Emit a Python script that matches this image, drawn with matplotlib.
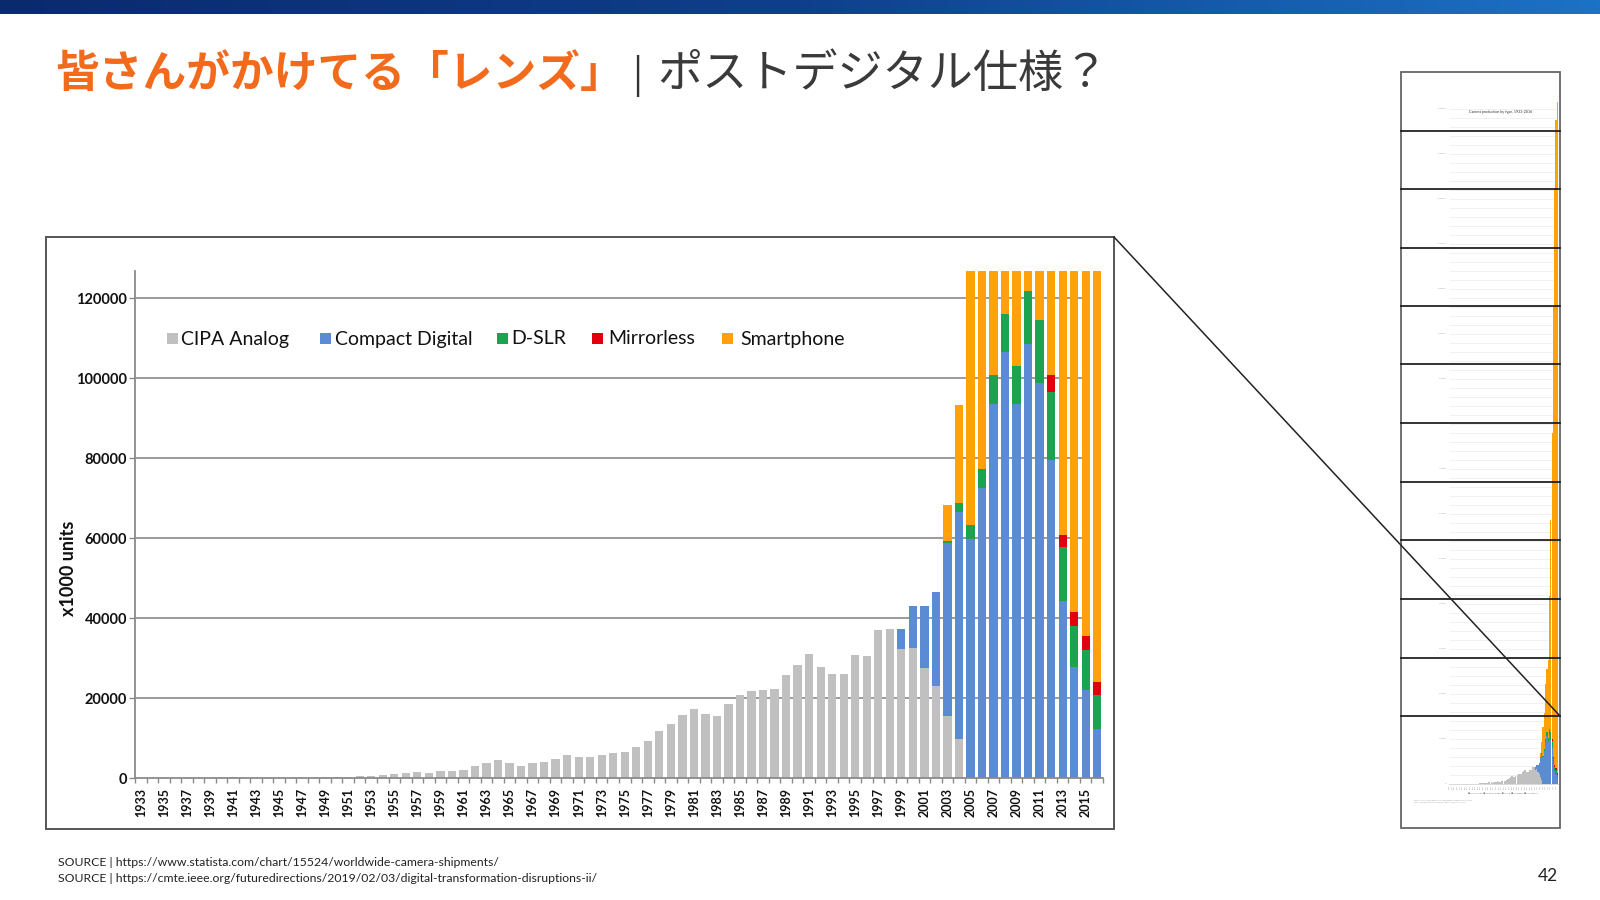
import numpy as np
import matplotlib
matplotlib.use("Agg")
import matplotlib.pyplot as plt
from matplotlib.patches import Rectangle
from matplotlib.lines import Line2D
from matplotlib.colors import LinearSegmentedColormap

# ---------------- data (x1000 units) ----------------
years = list(range(1933, 2017))

cipa_analog = [
    50, 60, 70, 80, 100, 110, 120, 120, 130, 100,        # 1933-1942
    80, 60, 40, 60, 80, 100, 130, 170, 250, 400,         # 1943-1952
    600, 800, 950, 1200, 1450, 1250, 1800, 1650, 2000, 2900,   # 1953-1962
    3750, 4600, 3750, 3100, 3700, 4100, 4850, 5800, 5200, 5200,  # 1963-1972
    5650, 6250, 6500, 7650, 9150, 11800, 13600, 15800, 17350, 15950,  # 1973-1982
    15550, 18450, 20700, 21750, 22000, 22250, 25800, 28300, 30900, 27700,  # 1983-1992
    25900, 26000, 30700, 30400, 37000, 37200, 32200, 32500, 27400, 23000,  # 1993-2002
    15550, 9700, 0, 0, 0, 0, 0, 0, 0, 0,                 # 2003-2012
    0, 0, 0, 0,                                          # 2013-2016
]
compact_digital = [0] * 66 + [
    5100, 10600, 15700, 23400,                           # 1999-2002
    43250, 56800, 59800, 72500, 93400, 106400, 93400, 108560, 98730, 79400,  # 2003-2012
    44150, 27800, 21900, 12200,                          # 2013-2016
]
dslr = [0] * 70 + [
    500, 2250, 3500, 4830, 7400, 9660, 9500, 13090, 15830, 17000,   # 2003-2012
    13600, 10300, 10200, 8550,                           # 2013-2016
]
mirrorless = [0] * 79 + [4330, 3050, 3300, 3500, 3320]   # 2012-2016
smartphone = [0] * 70 + [
    8870, 24550, 64000, 80000, 122000, 139000, 172000, 296000, 472000, 680000,  # 2003-2012
    1000000, 1280000, 1440000, 1490000,                  # 2013-2016
]

series_names = ["CIPA Analog", "Compact Digital", "D-SLR", "Mirrorless", "Smartphone"]
series_values = [cipa_analog, compact_digital, dslr, mirrorless, smartphone]
series_colors = ["#c0c0c0", "#5b8cd3", "#1ca34f", "#e2000f", "#ffa10a"]

y_ticks = [0, 20000, 40000, 60000, 80000, 100000, 120000]
x_label_years = list(range(1933, 2016, 2))

title_main = "皆さんがかけてる「レンズ」"
title_sub = "ポストデジタル仕様？"
sources = [
    "SOURCE | https://www.statista.com/chart/15524/worldwide-camera-shipments/",
    "SOURCE | https://cmte.ieee.org/futuredirections/2019/02/03/digital-transformation-disruptions-ii/",
]
page_number = "42"

# ---------------- helpers ----------------
W, H = 1600, 900
def fx(px):
    return px / W
def fy(py):
    return 1 - py / H

LATIN = ["Lato", "DejaVu Sans"]
CJK = ["Noto Sans CJK JP", "DejaVu Sans"]
plt.rcParams["font.family"] = LATIN

fig = plt.figure(figsize=(16, 9), dpi=100)
fig.patch.set_facecolor("white")

# ---------------- top banner gradient ----------------
ban = fig.add_axes([0, fy(14), 1, 14 / H])
grad = np.linspace(0, 1, 512).reshape(1, -1)
bcmap = LinearSegmentedColormap.from_list("ban", ["#0a2a6e", "#0f3f8c", "#1c72c6"])
ban.imshow(grad, aspect="auto", cmap=bcmap, extent=[0, 1, 0, 1])
ban.set_axis_off()

# ---------------- title ----------------
fig.text(fx(55), fy(74), title_main, family=CJK, fontsize=31.5, fontweight="bold",
         color="#f26a1c", ha="left", va="center")
fig.text(fx(637), fy(76), "|", family=CJK, fontsize=27, color="#333333",
         ha="center", va="center")
fig.text(fx(657), fy(74), title_sub, family=CJK, fontsize=32.5, color="#3a3a3a",
         ha="left", va="center")

# ---------------- chart frame ----------------
fig.add_artist(Rectangle((fx(46), fy(829)), fx(1114) - fx(46), fy(237) - fy(829),
                         transform=fig.transFigure, fill=False, edgecolor="#555555",
                         linewidth=1.4))

# ---------------- main chart ----------------
ax = fig.add_axes([fx(135), fy(778), fx(1103) - fx(135), fy(271) - fy(778)])
x = np.array(years)
bottom = np.zeros(len(years))
for name, vals, col in zip(series_names, series_values, series_colors):
    v = np.array(vals, dtype=float)
    ax.bar(x, v, bottom=bottom, width=0.72, color=col, label=name, zorder=2,
           linewidth=0)
    bottom += v

ax.set_xlim(1932.5, 2016.5)
ax.set_ylim(0, 126750)
ax.hlines(y_ticks[1:], 1932.5, 2014.7, color="#8a8a8a", linewidth=1.2, zorder=1)

for s in ["top", "right"]:
    ax.spines[s].set_visible(False)
for s in ["left", "bottom"]:
    ax.spines[s].set_color("#8a8a8a")
    ax.spines[s].set_linewidth(1.3)

ax.set_yticks(y_ticks)
ax.set_yticklabels([str(v) for v in y_ticks])
ax.tick_params(axis="y", length=4, width=1, color="#8a8a8a", pad=1.5,
               labelsize=10.5, labelcolor="#111111")
ax.set_xticks(x_label_years)
ax.set_xticklabels([str(v) for v in x_label_years], rotation=90)
ax.tick_params(axis="x", which="major", length=0, pad=7, labelsize=9,
               labelcolor="#111111")
ax.set_xticks(np.arange(1932.5, 2017, 1.0), minor=True)
ax.tick_params(axis="x", which="minor", length=3.5, width=1, color="#8a8a8a")
for lab in ax.get_xticklabels() + ax.get_yticklabels():
    lab.set_fontweight("bold")
ax.set_facecolor("none")

fig.text(fx(68), fy(568), "x1000 units", rotation=90, fontsize=13, fontweight="bold",
         ha="center", va="center", color="#111111")

# ---------------- legend (manual) ----------------
leg_sq = [167, 320, 497, 592, 722]
leg_tx = [181, 335, 511, 608, 740]
for name, col, sx, tx in zip(series_names, series_colors, leg_sq, leg_tx):
    fig.add_artist(Rectangle((fx(sx), fy(344)), 11 / W, 11 / H,
                             transform=fig.transFigure, facecolor=col, edgecolor="none"))
    fig.text(fx(tx), fy(339), name, fontsize=14, ha="left", va="center",
             color="#111111")

# ---------------- thumbnail on the right ----------------
fig.add_artist(Rectangle((fx(1401), fy(828)), fx(1560) - fx(1401), fy(72) - fy(828),
                         transform=fig.transFigure, fill=False, edgecolor="#666666",
                         linewidth=1.3))
mini = fig.add_axes([fx(1449), fy(784), fx(1558) - fx(1449), fy(98) - fy(784)])
mb = np.zeros(len(years))
for vals, col in zip(series_values, series_colors):
    v = np.array(vals, dtype=float)
    mini.bar(x, v, bottom=mb, width=0.95, color=col, linewidth=0, zorder=2)
    mb += v
mini.set_xlim(1932.5, 2016.5)
mini.set_ylim(0, 1524000)
mini.hlines(np.arange(20000, 1520000, 20000), 1932.5, 2016.5, color="#ececec",
            linewidth=0.5, zorder=1)
mini.set_yticks(np.arange(0, 1600000, 100000))
mini.set_yticklabels(["%d" % v for v in np.arange(0, 1600000, 100000)])
mini.tick_params(axis="y", length=0, labelsize=1.6, labelcolor="#aaaaaa", pad=2)
mini.set_xticks(x_label_years)
mini.set_xticklabels([str(v) for v in x_label_years], rotation=90)
mini.tick_params(axis="x", length=0, labelsize=1.2, labelcolor="#999999", pad=1)
for s in mini.spines.values():
    s.set_visible(False)
mini.spines["bottom"].set_visible(True)
mini.spines["bottom"].set_color("#bbbbbb")
mini.spines["bottom"].set_linewidth(0.4)
mini.set_facecolor("none")
fig.text(fx(1501), fy(112), "Camera production by type, 1933-2016", fontsize=2.6,
         ha="center", va="center", color="#333333")
fig.text(fx(1503), fy(793), "■ CIPA Analog  ■ Compact Digital  ■ D-SLR  ■ Mirrorless  ■ Smartphone",
         fontsize=1.5, ha="center", va="center", color="#777777")
fig.text(fx(1414), fy(801),
         "Sources: CIPA, camera industry data, smartphone shipments (IDC, Gartner)\n"
         "Chart compiled from multiple sources; values in thousands of units.",
         fontsize=1.3, ha="left", va="center", color="#999999")

for py in [130.7, 189.3, 247.7, 305.7, 364.3, 422.7, 481.7, 540, 599, 657.7, 716]:
    fig.add_artist(Line2D([fx(1401), fx(1560)], [fy(py), fy(py)],
                          transform=fig.transFigure, color="#111111", linewidth=1.2))

# connector line
fig.add_artist(Line2D([fx(1114), fx(1560)], [fy(237), fy(716)],
                      transform=fig.transFigure, color="#222222", linewidth=1.1))

# ---------------- footer ----------------
fig.text(fx(58), fy(862), sources[0], fontsize=8.85, ha="left", va="center",
         color="#222222")
fig.text(fx(58), fy(878), sources[1], fontsize=8.85, ha="left", va="center",
         color="#222222")
fig.text(fx(1548), fy(876), page_number, fontsize=12.5, ha="center", va="center",
         color="#222222")

fig.savefig("out.png", dpi=100, facecolor="white")
